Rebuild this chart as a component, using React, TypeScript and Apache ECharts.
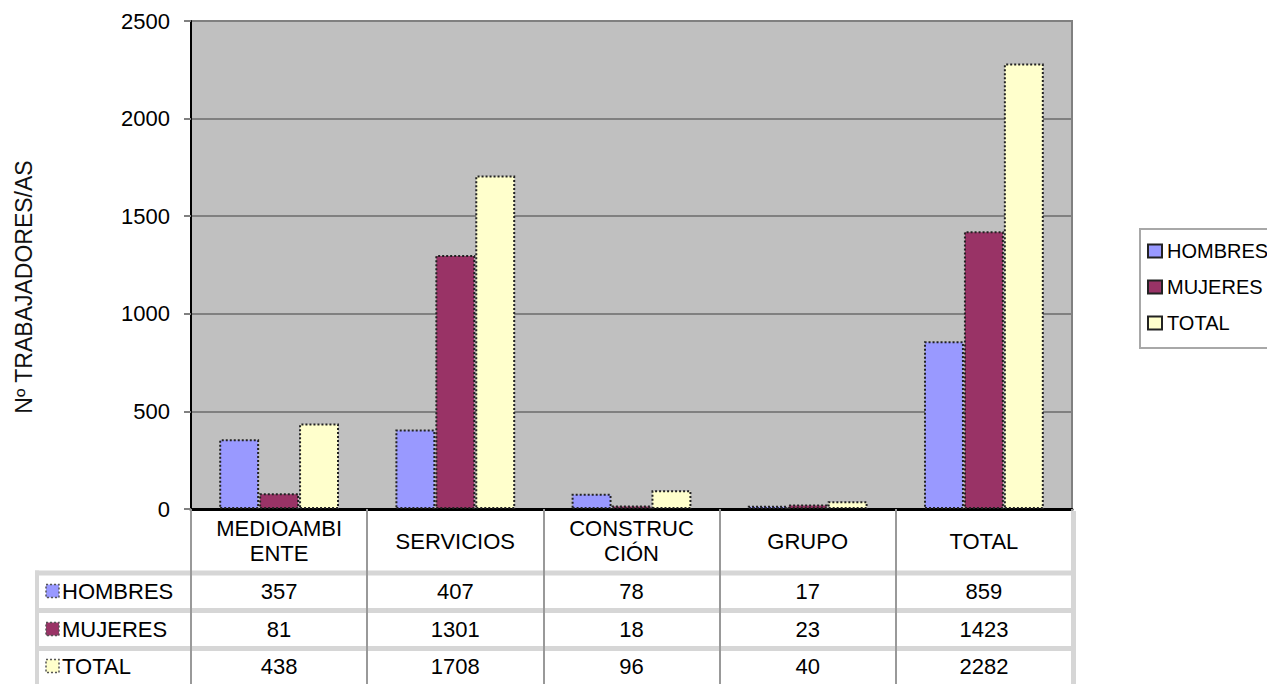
import { useEffect, useRef } from "react";
import * as echarts from "echarts";

const CATEGORIES = ["MEDIOAMBI\nENTE", "SERVICIOS", "CONSTRUC\nCIÓN", "GRUPO", "TOTAL"];
const SERIES_NAMES = ["HOMBRES", "MUJERES", "TOTAL"];
const HOMBRES = [357, 407, 78, 17, 859];
const MUJERES = [81, 1301, 18, 23, 1423];
const TOTAL = [438, 1708, 96, 40, 2282];
const Y_MIN = 0;
const Y_MAX = 2500;
const Y_STEP = 500;
const Y_TITLE = "Nº TRABAJADORES/AS";
const COLORS = ["#9999FF", "#993366", "#FFFFCC"];

const FONT = "'Liberation Sans', Arial, sans-serif";
const FS = 22;

// layout
const GRID = { left: 191, top: 21, width: 881, height: 488 };
const AXIS_Y = GRID.top + GRID.height; // pixel y of value 0
const ROW_CENTERS = [591, 629, 666];
const HEADER_CENTER = 541;
const SEPARATORS = [573, 610.5, 648.5];

export default function App() {
  const ref = useRef<HTMLDivElement>(null);
  useEffect(() => {
    if (!ref.current) return;
    const chart = echarts.init(ref.current, undefined, { renderer: "svg" });
    const rows = [HOMBRES, MUJERES, TOTAL];

    const valueAxes = rows.map((vals, i) => ({
      type: "category",
      gridIndex: 0,
      position: "bottom",
      data: vals.map(String),
      axisLine: { show: false },
      axisTick: { show: false },
      splitLine: { show: false },
      axisLabel: {
        interval: 0,
        margin: ROW_CENTERS[i] - AXIS_Y,
        verticalAlign: "middle",
        fontSize: FS,
        fontFamily: FONT,
        color: "#000",
      },
    }));

    const graphics: any[] = [];
    SEPARATORS.forEach((y) => {
      graphics.push({
        type: "rect",
        z: -1,
        shape: { x: 35, y: y - 2.5, width: 1041, height: 5 },
        style: { fill: "#d6d6d6" },
      });
    });
    graphics.push({
      type: "rect",
      z: -1,
      shape: { x: 35, y: SEPARATORS[0] - 2.5, width: 4, height: 684 - SEPARATORS[0] + 2.5 },
      style: { fill: "#d6d6d6" },
    });
    graphics.push({
      type: "rect",
      z: 10,
      shape: { x: 1071, y: AXIS_Y + 2, width: 5, height: 684 - AXIS_Y },
      style: { fill: "#d6d6d6" },
    });
    SERIES_NAMES.forEach((name, i) => {
      graphics.push({
        type: "rect",
        shape: { x: 46, y: ROW_CENTERS[i] - 6.5, width: 13, height: 13 },
        style: { fill: COLORS[i], stroke: "#555", lineWidth: 1.5, lineDash: [2, 2] },
      });
      graphics.push({
        type: "text",
        x: 62,
        y: ROW_CENTERS[i],
        style: {
          text: name,
          fontSize: FS,
          fontFamily: FONT,
          fill: "#000",
          verticalAlign: "middle",
          align: "left",
        },
      });
    });
    graphics.push({
      type: "text",
      x: 24,
      y: 287,
      rotation: Math.PI / 2,
      style: {
        text: Y_TITLE,
        fontSize: 23,
        fontFamily: FONT,
        fill: "#111",
        align: "center",
        verticalAlign: "middle",
      },
    });

    chart.setOption({
      animation: false,
      grid: {
        ...GRID,
        show: true,
        backgroundColor: "#c0c0c0",
        borderColor: "#808080",
        borderWidth: 2,
        containLabel: false,
        outerBoundsMode: "none",
      },
      legend: {
        data: SERIES_NAMES,
        orient: "vertical",
        left: 1140,
        top: 229,
        padding: [12, 40, 15, 7],
        itemWidth: 14,
        itemHeight: 13,
        itemGap: 16,
        icon: "rect",
        borderColor: "#a8a8a8",
        borderWidth: 2,
        textStyle: { fontSize: 20, fontFamily: FONT, color: "#000" },
      },
      xAxis: [
        {
          type: "category",
          gridIndex: 0,
          position: "bottom",
          data: CATEGORIES,
          axisLine: { show: true, lineStyle: { color: "#000", width: 3 } },
          axisTick: {
            show: true,
            interval: 0,
            length: 684 - AXIS_Y,
            lineStyle: { color: "#999", width: 2 },
          },
          splitLine: { show: false },
          axisLabel: {
            interval: 0,
            margin: HEADER_CENTER - AXIS_Y,
            verticalAlign: "middle",
            lineHeight: 25,
            fontSize: FS,
            fontFamily: FONT,
            color: "#000",
          },
        },
        ...valueAxes,
      ],
      yAxis: {
        type: "value",
        min: Y_MIN,
        max: Y_MAX,
        interval: Y_STEP,
        axisLine: { show: true, lineStyle: { color: "#000", width: 2 } },
        axisTick: { show: true, length: 7, lineStyle: { color: "#808080", width: 2 } },
        axisLabel: {
          margin: 21,
          fontSize: FS,
          fontFamily: FONT,
          color: "#000",
          formatter: (v: number) => String(v),
        },
        splitLine: { show: true, lineStyle: { color: "#808080", width: 2 } },
      },
      series: rows.map((vals, i) => ({
        type: "bar",
        name: SERIES_NAMES[i],
        xAxisIndex: 0,
        yAxisIndex: 0,
        data: vals,
        barGap: "0%",
        barCategoryGap: "32%",
        itemStyle: {
          color: COLORS[i],
          borderColor: "#222",
          borderWidth: 2,
          borderType: [2, 2],
        },
      })),
      graphic: { elements: graphics },
    });
    return () => chart.dispose();
  }, []);
  return (
    <div
      ref={ref}
      style={{ position: "fixed", left: 0, top: 0, width: 1267, height: 684, background: "#fff" }}
    />
  );
}
